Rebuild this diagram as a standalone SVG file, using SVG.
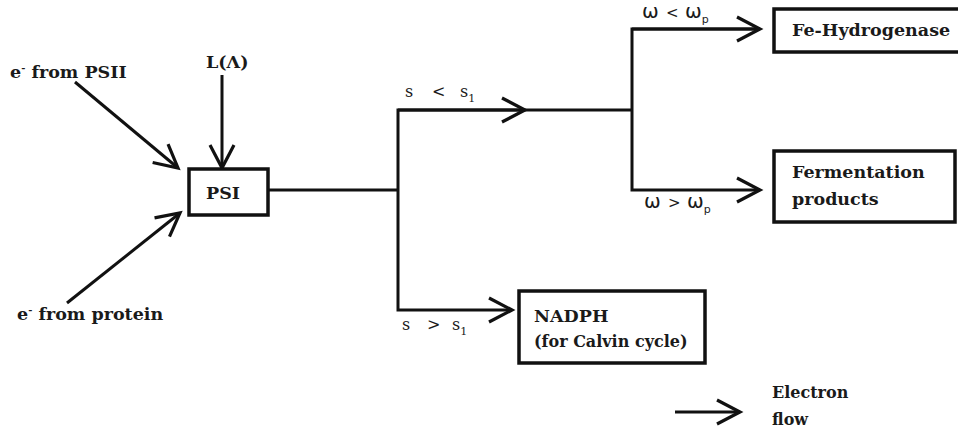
<svg xmlns="http://www.w3.org/2000/svg" width="958" height="434" viewBox="0 0 958 434">
<style>
.bg{fill:#ffffff}
.box{fill:#ffffff;stroke:#111;stroke-width:3.5}
.lbl{font-family:"DejaVu Serif","Liberation Serif",serif;font-weight:bold;font-size:17.5px;fill:#1a1a1a}
.sm{font-size:16px}
.cond{font-family:"DejaVu Serif","Liberation Serif",serif;font-size:16px;fill:#1a1a1a}
.om{font-family:"DejaVu Sans","Liberation Sans",sans-serif;font-size:20px;fill:#1a1a1a}
.op{font-family:"DejaVu Sans","Liberation Sans",sans-serif;font-size:15px;fill:#1a1a1a}
.sub{font-size:11px}
.ln{fill:none;stroke:#111;stroke-width:3;stroke-linejoin:miter}
</style>
<defs>
<marker id="ah" markerUnits="userSpaceOnUse" viewBox="-26 -15 30 30" markerWidth="30" markerHeight="30" refX="0" refY="0" orient="auto">
<path d="M-23 -12 L0 0 L-23 12" fill="none" stroke="#111" stroke-width="3.2"/>
</marker>
</defs>
<rect class="bg" x="0" y="0" width="958" height="434"/>
<g id="connectors">
<path class="ln" d="M75 82 L178 168" marker-end="url(#ah)"/>
<path class="ln" d="M222 75 L222 168" marker-end="url(#ah)"/>
<path class="ln" d="M67 303 L180 213" marker-end="url(#ah)"/>
<path class="ln" d="M268 190 H398"/>
<path class="ln" d="M525 110 H398 V310 H512" marker-end="url(#ah)"/>
<path class="ln" d="M398 110 H525" marker-end="url(#ah)"/>
<path class="ln" d="M525 110 H632"/>
<path class="ln" d="M760 29 H632 V190 H760" marker-end="url(#ah)"/>
<path class="ln" d="M632 29 H760" marker-end="url(#ah)"/>
<text class="cond" x="405" y="97">s</text>
<text class="cond" x="432" y="97">&lt;</text>
<text class="cond" x="460" y="97">s<tspan class="sub" dy="5">1</tspan></text>
<text class="cond" x="402" y="330">s</text>
<text class="cond" x="427" y="330">&gt;</text>
<text class="cond" x="452" y="330">s<tspan class="sub" dy="5">1</tspan></text>
<text class="om" x="642" y="18">ω</text>
<text class="op" x="666" y="18">&lt;</text>
<text class="om" x="685" y="18">ω<tspan class="sub" dy="5">p</tspan></text>
<text class="om" x="644" y="208">ω</text>
<text class="op" x="668" y="208">&gt;</text>
<text class="om" x="687" y="208">ω<tspan class="sub" dy="5">p</tspan></text>
</g>
<g id="src-psii">
<text class="lbl" x="10" y="78">e<tspan font-size="10" dy="-7">-</tspan><tspan dy="7"> from PSII</tspan></text>
</g>
<g id="src-light">
<text class="lbl" x="206" y="68">L(Λ)</text>
</g>
<g id="src-protein">
<text class="lbl" x="17" y="320">e<tspan font-size="10" dy="-7">-</tspan><tspan dy="7"> from protein</tspan></text>
</g>
<g id="psi">
<rect class="box" x="189" y="169" width="79" height="46"/>
<text class="lbl" x="223" y="199" text-anchor="middle">PSI</text>
</g>
<g id="fe-hydrogenase">
<rect class="box" x="774" y="9" width="200" height="43"/>
<text class="lbl" x="792" y="36">Fe-Hydrogenase</text>
</g>
<g id="fermentation">
<rect class="box" x="774" y="151" width="181" height="71"/>
<text class="lbl" x="792" y="178">Fermentation</text>
<text class="lbl" x="792" y="205">products</text>
</g>
<g id="nadph">
<rect class="box" x="519" y="291" width="186" height="72"/>
<text class="lbl" x="534" y="322">NADPH</text>
<text class="lbl sm" x="534" y="347">(for Calvin cycle)</text>
</g>
<g id="legend">
<path class="ln" d="M675 412 H740" marker-end="url(#ah)"/>
<text class="lbl sm" x="772" y="398">Electron</text>
<text class="lbl sm" x="772" y="425">flow</text>
</g>
</svg>
